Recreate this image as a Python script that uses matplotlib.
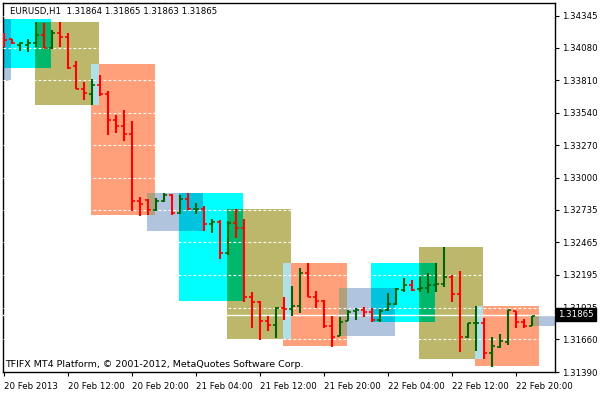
import numpy as np
import matplotlib
matplotlib.use('Agg')
import matplotlib.pyplot as plt
from matplotlib.patches import Rectangle

# hourly OHLC bars, EURUSD H1, bar 0 = 20 Feb 2013 04:00
opens = [1.34150, 1.34150, 1.34101, 1.34101, 1.34117, 1.34190, 1.34076, 1.34207, 1.34174, 1.33929,
         1.33742, 1.33701, 1.33774, 1.33693, 1.33480, 1.33432, 1.33366, 1.32811, 1.32820, 1.32738,
         1.32811, 1.32860, 1.32713, 1.32828, 1.32746, 1.32746, 1.32616, 1.32632, 1.32379, 1.32624,
         1.32583, 1.32012, 1.31971, 1.31816, 1.31783, 1.31922, 1.31914, 1.31938, 1.32208, 1.32012,
         1.31979, 1.31775, 1.31685, 1.31816, 1.31897, 1.31906, 1.31889, 1.31824, 1.31906, 1.31955,
         1.32069, 1.32110, 1.32077, 1.32085, 1.32110, 1.32118, 1.32175, 1.32036, 1.31677, 1.31800,
         1.31800, 1.31547, 1.31596, 1.31636, 1.31897, 1.31808, 1.31775]
highs = [1.34207, 1.34150, 1.34125, 1.34150, 1.34296, 1.34288, 1.34231, 1.34296, 1.34207, 1.33970,
         1.33799, 1.33823, 1.33856, 1.33725, 1.33521, 1.33562, 1.33472, 1.32844, 1.32828, 1.32836,
         1.32877, 1.32868, 1.32860, 1.32877, 1.32795, 1.32771, 1.32656, 1.32648, 1.32640, 1.32746,
         1.32656, 1.32052, 1.31979, 1.31857, 1.31930, 1.32012, 1.32101, 1.32256, 1.32297, 1.32061,
         1.31987, 1.31857, 1.31848, 1.31906, 1.31922, 1.31930, 1.31922, 1.31914, 1.32044, 1.32085,
         1.32167, 1.32150, 1.32175, 1.32208, 1.32297, 1.32428, 1.32191, 1.32224, 1.31800, 1.31938,
         1.31840, 1.31677, 1.31702, 1.31906, 1.31897, 1.31832, 1.31857]
lows = [1.34084, 1.34109, 1.34052, 1.34044, 1.34084, 1.34076, 1.34068, 1.34084, 1.33905, 1.33742,
        1.33644, 1.33603, 1.33684, 1.33358, 1.33374, 1.33309, 1.32722, 1.32681, 1.32689, 1.32730,
        1.32803, 1.32689, 1.32697, 1.32738, 1.32705, 1.32558, 1.32542, 1.32330, 1.32363, 1.32501,
        1.31971, 1.31759, 1.31653, 1.31734, 1.31669, 1.31824, 1.31857, 1.31881, 1.32012, 1.31922,
        1.31759, 1.31596, 1.31685, 1.31816, 1.31824, 1.31848, 1.31808, 1.31808, 1.31897, 1.31946,
        1.32052, 1.32061, 1.32052, 1.32044, 1.32052, 1.32093, 1.31971, 1.31555, 1.31669, 1.31563,
        1.31498, 1.31432, 1.31587, 1.31612, 1.31759, 1.31759, 1.31775]
closes = [1.34141, 1.34117, 1.34117, 1.34117, 1.34190, 1.34076, 1.34207, 1.34174, 1.33913, 1.33742,
          1.33709, 1.33774, 1.33693, 1.33480, 1.33432, 1.33366, 1.32811, 1.32787, 1.32738, 1.32811,
          1.32860, 1.32713, 1.32828, 1.32746, 1.32746, 1.32616, 1.32632, 1.32379, 1.32624, 1.32583,
          1.32012, 1.31971, 1.31816, 1.31783, 1.31922, 1.31914, 1.31938, 1.32208, 1.32012, 1.31979,
          1.31775, 1.31677, 1.31808, 1.31889, 1.31906, 1.31889, 1.31824, 1.31897, 1.31955, 1.32077,
          1.32110, 1.32069, 1.32085, 1.32110, 1.32118, 1.32175, 1.32036, 1.31677, 1.31800, 1.31800,
          1.31547, 1.31604, 1.31644, 1.31906, 1.31808, 1.31775, 1.31857]

# session boxes: first bar, last bar, top price, bottom price, colour
box_start = [0, 0, 4, 11, 18, 22, 28, 35, 42, 46, 52, 59, 66]
box_end = [5, 0, 11, 18, 24, 29, 35, 42, 48, 53, 59, 66, 70]
box_top = [1.34321, 1.34321, 1.34296, 1.33946, 1.32877, 1.32877, 1.32746, 1.32297, 1.32085,
           1.32297, 1.32428, 1.31938, 1.31865]
box_bot = [1.33913, 1.33807, 1.33603, 1.32689, 1.32558, 1.31979, 1.31661, 1.31604, 1.31685,
           1.31808, 1.31498, 1.31440, 1.31775]
box_col = ['cyan', 'steel', 'khaki', 'salmon', 'steel', 'cyan', 'khaki', 'salmon', 'steel',
           'cyan', 'khaki', 'salmon', 'steel']
# thin marker boxes drawn on top
thin_bar = [11, 35, 59]
thin_top = [1.33946, 1.32297, 1.31938]
thin_bot = [1.33603, 1.31661, 1.31498]

cols = {'cyan': (0, 255, 255), 'steel': (176, 196, 222), 'khaki': (189, 183, 107),
        'salmon': (255, 160, 122)}
yticks = [1.34345, 1.34080, 1.33810, 1.33540, 1.33270, 1.33000, 1.32735, 1.32465,
          1.32195, 1.31925, 1.31660, 1.31390]
xtick_pos = [0, 8, 16, 24, 32, 40, 48, 56, 64]
xtick_lab = ['20 Feb 2013', '20 Feb 12:00', '20 Feb 20:00', '21 Feb 04:00', '21 Feb 12:00',
             '21 Feb 20:00', '22 Feb 04:00', '22 Feb 12:00', '22 Feb 20:00']
last_price = 1.31865

def rgb(c):
    return tuple(v / 255. for v in c)

fs = 6.2
fig = plt.figure(figsize=(6, 4), dpi=100)
ax = fig.add_axes([3/600, 1-372/400, 552/600, 369/400])
ax.set_xlim(-0.125, 68.875)
ax.set_ylim(1.31440, 1.34452)

nb = len(box_start)
for k in range(nb):
    x0 = box_start[k] - 0.125
    ax.add_patch(Rectangle((x0, box_bot[k]), box_end[k] - box_start[k] + 1, box_top[k] - box_bot[k],
                           color=rgb(cols[box_col[k]]), lw=0, zorder=1))
# overlaps mixed like MT4 does
for a in range(nb):
    for b in range(a+1, nb):
        x0 = max(box_start[a], box_start[b]) - 0.125
        x1 = min(box_end[a], box_end[b]) + 0.875
        y0 = max(box_bot[a], box_bot[b])
        y1 = min(box_top[a], box_top[b])
        if x1 > x0 and y1 > y0:
            c = tuple(min(u, v) for u, v in zip(cols[box_col[a]], cols[box_col[b]]))
            ax.add_patch(Rectangle((x0, y0), x1 - x0, y1 - y0, color=rgb(c), lw=0, zorder=2))
for k in range(len(thin_bar)):
    ax.add_patch(Rectangle((thin_bar[k] - 0.125, thin_bot[k]), 1, thin_top[k] - thin_bot[k],
                           color=rgb((176, 224, 230)), lw=0, zorder=3))

for yt in yticks:
    ax.axhline(yt, color='white', ls=(0, (2.5, 2)), lw=0.8, zorder=4)
ax.axhline(last_price, color='white', lw=1.0, zorder=4)

for i in range(len(opens)):
    c = '#006400' if closes[i] >= opens[i] else '#ff0000'
    ax.vlines(i, lows[i], highs[i], color=c, lw=1.5, zorder=5)
    ax.hlines(opens[i], i - 0.35, i, color=c, lw=1.2, zorder=5)
    ax.hlines(closes[i], i, i + 0.35, color=c, lw=1.2, zorder=5)

ax.yaxis.tick_right()
ax.set_yticks(yticks)
ax.set_yticklabels(['%.5f' % v for v in yticks], fontsize=fs)
ax.set_xticks(xtick_pos)
ax.set_xticklabels(xtick_lab, fontsize=fs, ha='left')
ax.tick_params(length=3, width=0.8, pad=2)
ax.tick_params(axis='x', pad=4)
for s in ax.spines.values():
    s.set_color('black')
    s.set_linewidth(1)

ax.text(0.012, 0.99, 'EURUSD,H1  1.31864 1.31865 1.31863 1.31865', transform=ax.transAxes,
        fontsize=fs, va='top', ha='left', zorder=10)
ax.text(0.004, 0.008, 'TFIFX MT4 Platform, \u00a9 2001-2012, MetaQuotes Software Corp.',
        transform=ax.transAxes, fontsize=6.8, va='bottom', ha='left', zorder=10)
ax.text(1.006, last_price, '%.5f' % last_price, transform=ax.get_yaxis_transform(),
        fontsize=fs, color='white', va='center', ha='left', zorder=10,
        bbox=dict(facecolor='black', edgecolor='black', pad=1.5), clip_on=False)

fig.savefig('out.png', dpi=100)
